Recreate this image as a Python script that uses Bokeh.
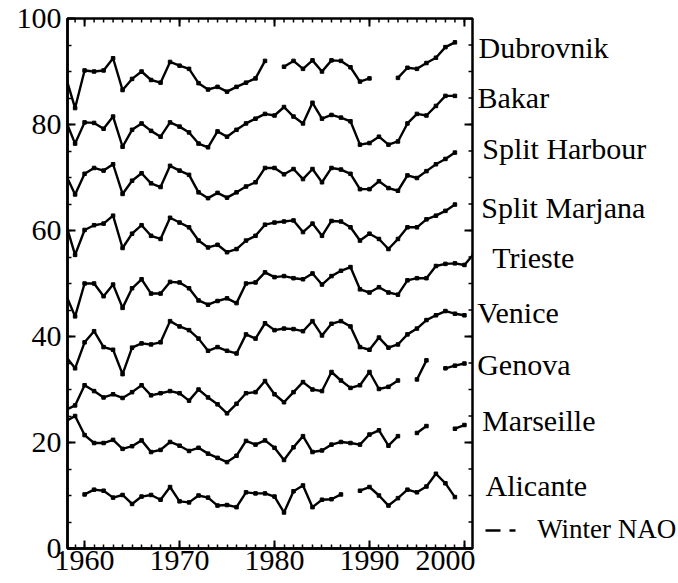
from bokeh.plotting import figure
from bokeh.models import Range1d, FixedTicker
from bokeh.layouts import row
from bokeh.core.properties import value
from bokeh.embed import file_html
from bokeh.resources import INLINE

nan = float("nan")

years = list(range(1958, 2002))

dubrovnik = [89.1, 83.1, 90.2, 90.0, 90.2, 92.5, 86.5, 88.6, 90.0, 88.4, 87.9, 91.8, 91.1, 90.5,
             87.8, 86.6, 87.1, 86.2, 87.1, 87.9, 88.7, 92.0, nan, 90.9, 92.0, 90.5, 92.1, 90.0,
             92.1, 92.0, 90.8, 88.1, 88.7, nan, nan, 88.8, 90.7, 90.5, 91.6, 92.6, 94.6, 95.5,
             nan, nan]
bakar = [80.8, 76.4, 80.4, 80.3, 79.2, 81.5, 75.8, 79.0, 80.2, 78.8, 77.7, 80.4, 79.6, 78.5,
         76.4, 75.7, 78.7, 77.7, 79.0, 80.2, 81.1, 82.0, 81.7, 83.3, 81.5, 80.2, 84.1, 81.1,
         81.8, 81.3, 80.6, 76.2, 76.5, 77.7, 76.2, 76.8, 80.2, 82.0, 81.7, 83.5, 85.4, 85.4,
         nan, nan]
split_harbour = [70.6, 66.8, 70.7, 71.8, 71.3, 72.5, 66.9, 69.4, 70.8, 68.9, 68.2, 72.2, 71.3, 70.5,
                 67.2, 66.1, 67.1, 66.2, 67.2, 68.3, 69.1, 71.8, 71.8, 70.6, 71.6, 69.7, 71.6, 69.1,
                 71.8, 71.5, 70.7, 67.8, 67.8, 69.3, 68.0, 67.5, 70.4, 69.9, 71.2, 72.5, 73.5, 74.7,
                 nan, nan]
split_marjana = [61.4, 55.4, 60.1, 61.0, 61.3, 62.8, 56.7, 59.4, 61.0, 59.0, 58.4, 62.4, 61.5, 60.6,
                 58.1, 56.8, 57.3, 55.9, 56.5, 58.1, 59.0, 61.1, 61.5, 61.7, 61.9, 59.7, 61.3, 59.0,
                 61.8, 61.7, 60.6, 58.1, 59.4, 58.4, 56.5, 58.4, 60.6, 60.6, 62.1, 62.8, 63.7, 64.9,
                 nan, nan]
trieste = [48.0, 43.8, 50.0, 50.0, 47.6, 49.8, 45.4, 49.1, 50.8, 48.1, 48.1, 50.3, 50.2, 49.1,
           46.8, 46.0, 46.7, 47.2, 46.3, 50.0, 50.2, 52.1, 51.2, 51.4, 51.0, 50.8, 51.9, 49.8,
           51.4, 52.4, 53.1, 48.9, 48.3, 49.3, 48.3, 47.9, 50.6, 51.0, 51.0, 53.3, 53.7, 53.8,
           53.5, 55.6]
venice = [36.3, 34.0, 38.9, 41.0, 38.0, 37.5, 32.9, 37.9, 38.7, 38.5, 38.9, 42.9, 41.9, 41.2,
          39.6, 37.3, 38.0, 37.3, 36.8, 40.4, 39.6, 42.5, 41.2, 41.5, 41.4, 41.0, 42.9, 40.2,
          42.4, 42.9, 41.9, 38.0, 37.5, 39.8, 37.9, 38.5, 40.4, 41.5, 43.1, 44.0, 44.8, 44.3,
          44.0, nan]
genova = [26.1, 27.0, 30.8, 29.7, 28.5, 29.1, 28.4, 29.5, 30.8, 28.9, 29.3, 29.7, 29.3, 27.9,
          30.0, 28.5, 27.2, 25.5, 27.3, 29.3, 29.5, 31.6, 29.1, 27.6, 29.5, 31.4, 30.0, 29.7,
          33.3, 31.7, 30.3, 30.8, 33.3, 30.1, 30.5, 31.7, nan, 31.9, 35.5, nan, 34.0, 34.5,
          34.9, nan]
marseille = [24.0, 25.0, 21.4, 19.9, 19.9, 20.5, 18.8, 19.3, 20.4, 18.2, 18.6, 20.1, 19.4, 18.4,
             19.0, 17.9, 17.1, 16.3, 17.5, 20.3, 19.6, 20.4, 19.0, 16.7, 19.1, 21.2, 18.2, 18.5,
             19.6, 20.1, 19.9, 19.6, 21.5, 22.3, 19.4, 21.2, nan, 21.8, 23.1, nan, nan, 22.6,
             23.3, nan]
alicante = [nan, nan, 10.2, 11.1, 10.9, 9.6, 10.1, 8.4, 9.8, 10.1, 9.2, 11.6, 8.9, 8.7,
            10.0, 9.6, 8.1, 8.2, 7.8, 10.6, 10.4, 10.4, 9.8, 6.8, 10.8, 11.9, 7.8, 9.2,
            9.3, 10.2, nan, 10.9, 11.6, 10.0, 8.1, 9.5, 11.1, 10.6, 11.7, 14.1, 12.3, 9.7,
            nan, nan]

series = [dubrovnik, bakar, split_harbour, split_marjana, trieste, venice, genova, marseille, alicante]
station_names = ["Dubrovnik", "Bakar", "Split Harbour", "Split Marjana", "Trieste",
                 "Venice", "Genova", "Marseille", "Alicante"]
legend_text = "Winter NAO"

x_major = [1960, 1970, 1980, 1990, 2000]
x_minor = list(range(1958, 2001))
y_major = [0, 20, 40, 60, 80, 100]
y_minor = list(range(0, 101, 5))

FONT = "Liberation Serif"
X0, X1 = 1958.2, 2000.85
Y0, Y1 = 0, 100
TOP, BOTTOM, LEFT = 18, 35, 67
FRAME_W = 405
FRAME_H = 583 - TOP - BOTTOM

p = figure(width=LEFT + FRAME_W + 3, height=583, output_backend="svg", toolbar_location=None,
           x_range=Range1d(X0, X1), y_range=Range1d(Y0, Y1),
           min_border_left=LEFT, min_border_right=3, min_border_top=TOP, min_border_bottom=BOTTOM,
           background_fill_color="white", border_fill_color="white")
p.grid.visible = False
p.outline_line_color = "black"
p.outline_line_width = 2.5


def style_axis(ax, ticks, minor):
    ax.ticker = FixedTicker(ticks=ticks, minor_ticks=minor)
    ax.axis_line_color = "black"
    ax.axis_line_width = 2.5
    ax.major_tick_in = 8
    ax.major_tick_out = 0
    ax.minor_tick_in = 4
    ax.minor_tick_out = 0
    ax.major_tick_line_width = 2
    ax.minor_tick_line_width = 1.5
    ax.major_tick_line_color = "black"
    ax.minor_tick_line_color = "black"
    ax.major_label_text_font = FONT
    ax.major_label_text_font_size = "30px"
    ax.major_label_text_color = "black"


style_axis(p.xaxis[0], x_major, x_minor)
p.xaxis[0].major_label_standoff = 2
style_axis(p.yaxis[0], y_major, y_minor)
p.yaxis[0].major_label_standoff = 6

# inward ticks on the top and right frame edges (mirroring the bottom/left axes)
px_x = FRAME_W / (X1 - X0)
px_y = FRAME_H / (Y1 - Y0)
p.segment(x0=x_major, y0=[Y1] * len(x_major), x1=x_major, y1=[Y1 - 8 / px_y] * len(x_major),
          line_color="black", line_width=2)
p.segment(x0=x_minor, y0=[Y1] * len(x_minor), x1=x_minor, y1=[Y1 - 4 / px_y] * len(x_minor),
          line_color="black", line_width=1.5)
p.segment(x0=[X1] * len(y_major), y0=y_major, x1=[X1 - 8 / px_x] * len(y_major), y1=y_major,
          line_color="black", line_width=2)
p.segment(x0=[X1] * len(y_minor), y0=y_minor, x1=[X1 - 4 / px_x] * len(y_minor), y1=y_minor,
          line_color="black", line_width=1.5)

for s in series:
    p.line(years, s, line_color="black", line_width=2.4)
    p.scatter(years, s, marker="square", size=3.5, fill_color="black", line_color="black")

# right-hand panel with the station names (x in page pixels, y in the chart's data units)
q = figure(width=678 - (LEFT + FRAME_W + 3), height=583, output_backend="svg", toolbar_location=None,
           x_range=Range1d(LEFT + FRAME_W + 3, 678), y_range=Range1d(Y0, Y1),
           x_axis_type=None, y_axis_type=None,
           min_border_left=0, min_border_right=0, min_border_top=TOP, min_border_bottom=BOTTOM,
           background_fill_color="white", border_fill_color="white")
q.grid.visible = False
q.outline_line_color = None

label_x = [478, 477, 481.7, 480.7, 491.7, 476.7, 476.7, 481.7, 485]
label_y = [94.5, 85.1, 75.4, 64.4, 54.9, 44.6, 34.8, 24.1, 11.9]
q.text(x=label_x, y=label_y, text=station_names, text_font=value(FONT), text_font_size="30px",
       text_color="black", text_baseline="alphabetic", text_align="left")

# legend sample for the winter NAO: long dash + short dash
q.segment(x0=[485, 509], y0=[3.4, 3.4], x1=[500, 515], y1=[3.4, 3.4], line_color="black", line_width=2.5)
q.text(x=[536.7], y=[3.7], text=[legend_text], text_font=value(FONT), text_font_size="27px",
       text_color="black", text_baseline="alphabetic", text_align="left")

layout = row(p, q, spacing=0)
open("out.html", "w").write(file_html(layout, INLINE))
